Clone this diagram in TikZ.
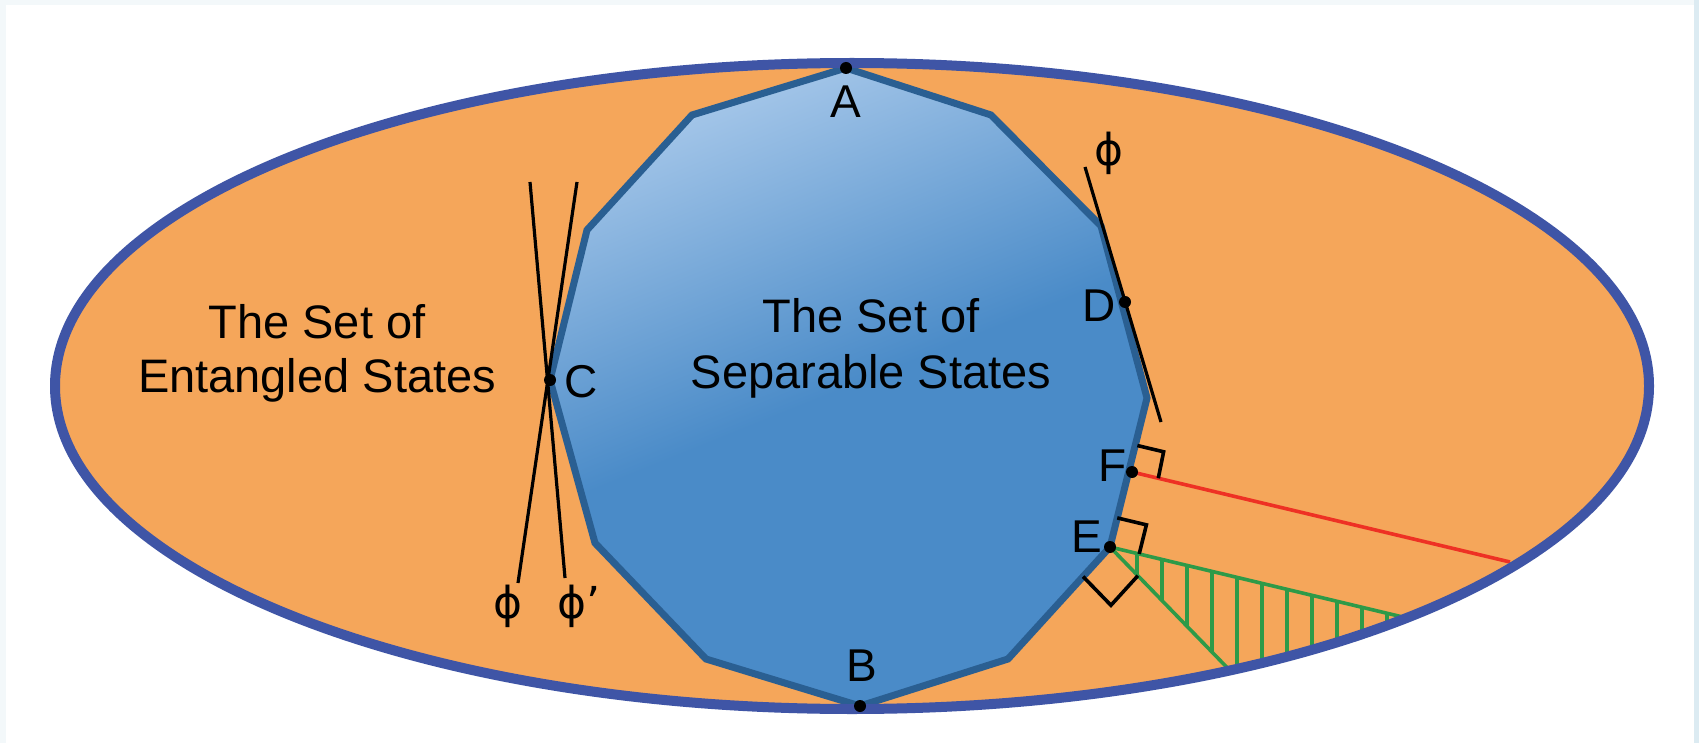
\documentclass[tikz,border=0pt]{standalone}
\usepackage{fontspec}
\setmainfont{Liberation Sans}
\newfontfamily\phifont{DejaVu Sans}
\usetikzlibrary{calc}
\definecolor{orangefill}{HTML}{F5A65A}
\definecolor{ellborder}{HTML}{3F55A6}
\definecolor{polyborder}{HTML}{2A5F92}
\definecolor{seplight}{HTML}{B5D1EF}
\definecolor{sepdark}{HTML}{4A8BC8}
\definecolor{redline}{HTML}{EE3124}
\definecolor{greenline}{HTML}{2E9A48}
\definecolor{framebg}{HTML}{F3F8FA}
\definecolor{frameright}{HTML}{DCEBF2}
\pgfdeclareverticalshading{sepshade}{100bp}{color(0bp)=(sepdark); color(50bp)=(sepdark); color(80bp)=(seplight); color(100bp)=(seplight)}
\begin{document}
\begin{tikzpicture}[x=1pt,y=-1pt,
  lbl/.style={font=\fontsize{46}{54}\selectfont, inner sep=0pt},
  philbl/.style={font=\phifont\fontsize{44}{54}\selectfont, inner sep=0pt},
  bigtext/.style={font=\fontsize{47}{54}\selectfont, inner sep=0pt, align=center},
  tangent/.style={line width=3.2pt, black},
  rightmark/.style={line width=3.6pt, black, line join=miter},
  dotstyle/.style={circle, fill=black, inner sep=0pt, minimum size=12pt},
  greenstyle/.style={line width=3.6pt, greenline}]
\useasboundingbox (0,0) rectangle (1699,743);
% background frame
\fill[framebg] (0,0) rectangle (1699,743);
\fill[white] (6,5) rectangle (1694,743);
\fill[frameright] (1694,0) rectangle (1699,743);
% ellipse fill
\fill[orangefill] (852,386) ellipse [x radius=797pt, y radius=323pt];
% polygon vertices
\coordinate (A) at (846,68);
\coordinate (V1) at (991,115);
\coordinate (V2) at (1101,226);
\coordinate (V3) at (1147,398);
\coordinate (E) at (1110,547);
\coordinate (V6) at (1008,659);
\coordinate (B) at (860,706);
\coordinate (V7) at (706,659);
\coordinate (V8) at (595,543);
\coordinate (C) at (550,380);
\coordinate (V10) at (587,230);
\coordinate (V11) at (692,115);
\coordinate (D) at (1125,302);
\coordinate (F) at (1132,472);
\draw[line width=7pt, polyborder, line join=miter, shading=sepshade, shading angle=22]
  (A) -- (V1) -- (V2) -- (V3) -- (E) -- (V6) -- (B) -- (V7) -- (V8) -- (C) -- (V10) -- (V11) -- cycle;
% texts
\node[bigtext, anchor=base] (ent) at (317,392) {The Set of\\Entangled States};
\node[bigtext, anchor=base, font=\fontsize{47}{56}\selectfont] (sep) at (871,388) {The Set of\\Separable States};
% tangent lines at C
\coordinate (c1top) at (577,182);
\coordinate (c1bot) at (518,583);
\coordinate (c2top) at (530,182);
\coordinate (c2bot) at (565,578);
\draw[tangent] (c1top) -- (c1bot);
\draw[tangent] (c2top) -- (c2bot);
% tangent line at D
\coordinate (dtop) at (1085,167);
\coordinate (dbot) at (1161,422);
\draw[tangent] (dtop) -- (dbot);
% points on the ellipse
\coordinate (P1) at ({852+797*cos(61.7)},{386+323*sin(61.7)});
\coordinate (P2) at ({852+797*cos(45.9)},{386+323*sin(45.9)});
\coordinate (R) at (1510,562);
% red line
\draw[line width=3.6pt, redline] (F) -- (R);
% hatch
\begin{scope}
  \clip (852,386) ellipse [x radius=797pt, y radius=323pt];
  \clip (E) -- ($(E)!2!(P1)$) -- ($(E)!2!(P2)$) -- cycle;
  \foreach \x in {1137,1162,...,1400} {
    \draw[greenstyle] (\x,500) -- (\x,740);
  }
\end{scope}
\draw[greenstyle] (E) -- (P1);
\draw[greenstyle] (E) -- (P2);
% right angle marks
\draw[rightmark] ($(F)!27pt!(V3)$) -- ($($(F)!27pt!(V3)$)+($(F)!27pt!(R)$)-(F)$) -- ($(F)!27pt!(R)$);
\draw[rightmark] ($(E)!30pt!(V3)$) -- ($($(E)!30pt!(V3)$)+($(E)!30pt!(P2)$)-(E)$) -- ($(E)!30pt!(P2)$);
\draw[rightmark] ($(E)!40pt!(V6)$) -- ($($(E)!40pt!(V6)$)+($(E)!40pt!(P1)$)-(E)$) -- ($(E)!40pt!(P1)$);
% ellipse border
\draw[line width=10pt, ellborder] (852,386) ellipse [x radius=797pt, y radius=323pt];
% dots
\node[dotstyle] (dA) at (A) {};
\node[dotstyle] (dB) at (B) {};
\node[dotstyle] (dC) at (C) {};
\node[dotstyle] (dD) at (D) {};
\node[dotstyle] (dE) at (E) {};
\node[dotstyle] (dF) at (F) {};
% labels
\node[lbl, anchor=base] (lA) at (846,118) {A};
\node[lbl, anchor=base] (lB) at (862,681) {B};
\node[lbl, anchor=base] (lC) at (581,397) {C};
\node[lbl, anchor=base] (lD) at (1099,321) {D};
\node[lbl, anchor=base] (lF) at (1113,481) {F};
\node[lbl, anchor=base] (lE) at (1087,552) {E};
\node[philbl, anchor=base] (phiD) at (1109,166) {ϕ};
\node[philbl, anchor=base] (phiC) at (508,618) {ϕ};
\node[philbl, anchor=base west] (phiCp) at (557,618) {ϕ’};
\end{tikzpicture}
\end{document}
